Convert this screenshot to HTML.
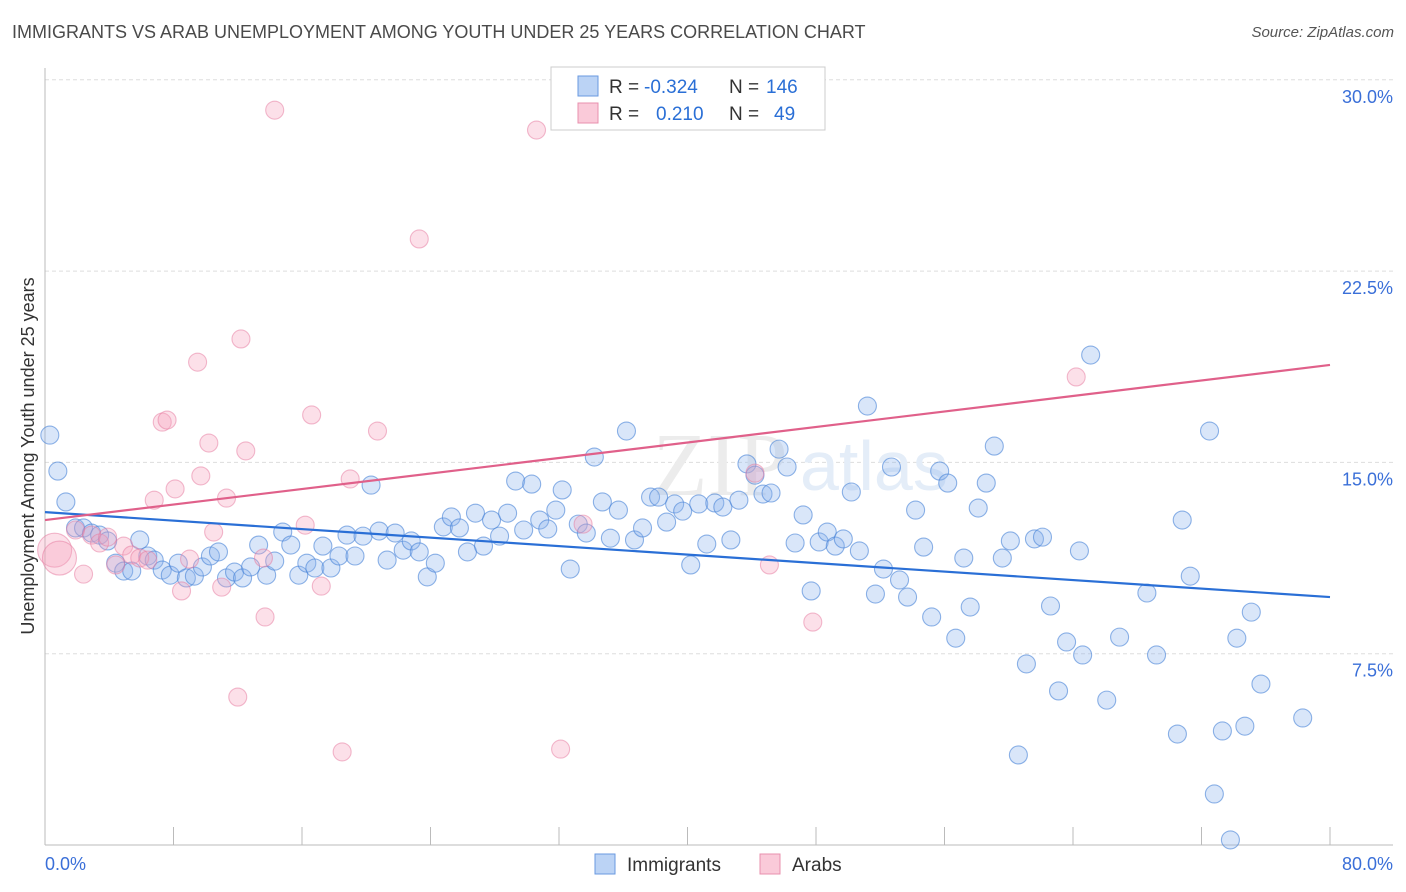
<!DOCTYPE html>
<html><head><meta charset="utf-8">
<style>
body{margin:0;background:#fff;font-family:"Liberation Sans",sans-serif;}
#wrap{position:relative;width:1406px;height:892px;overflow:hidden;}
.t{position:absolute;white-space:nowrap;}
</style></head>
<body>
<div id="wrap">
<div class="t" style="left:12px;top:22px;font-size:18px;color:#4a4a4a;">IMMIGRANTS VS ARAB UNEMPLOYMENT AMONG YOUTH UNDER 25 YEARS CORRELATION CHART</div>
<div class="t" style="right:12px;top:24px;font-size:15px;color:#555;font-style:italic;">Source: ZipAtlas.com</div>
<svg id="plot" width="1406" height="892" style="position:absolute;left:0;top:0"></svg>
</div>
<script>
const xTicks=[0,8,16,24,32,40,48,56,64,72,80];
const yTicks=[7.5,15,22.5,30];
const yTickLabels=["7.5%","15.0%","22.5%","30.0%"];
const immX=[0.3,0.8,1.3,1.9,2.4,2.9,3.4,3.9,4.4,4.9,5.4,5.9,6.4,6.8,7.3,7.8,8.3,8.8,9.3,9.8,10.3,10.8,11.3,11.8,12.3,12.8,13.3,13.8,14.3,14.8,15.3,15.8,16.3,16.8,17.3,17.8,18.3,18.8,19.3,19.8,20.3,20.8,21.3,21.8,22.3,22.8,23.3,23.8,24.3,24.8,25.3,25.8,26.3,26.8,27.3,27.8,28.3,28.8,29.3,29.8,30.3,30.8,31.3,31.8,32.2,32.7,33.2,33.7,34.2,34.7,35.2,35.7,36.2,36.7,37.2,37.7,38.2,38.7,39.2,39.7,40.2,40.7,41.2,41.7,42.2,42.7,43.2,43.7,44.2,44.7,45.2,45.7,46.2,46.7,47.2,47.7,48.2,48.7,49.2,49.7,50.2,50.7,51.2,51.7,52.2,52.7,53.2,53.7,54.2,54.7,55.2,55.7,56.2,56.7,57.2,57.6,58.1,58.6,59.1,59.6,60.1,60.6,61.1,61.6,62.1,62.6,63.1,63.6,64.4,64.6,65.1,66.1,66.9,68.6,69.2,70.5,70.8,71.3,72.5,72.8,73.3,73.8,74.2,74.7,75.1,75.7,78.3];
const immY=[16.07,14.66,13.45,12.43,12.43,12.23,12.15,11.92,11.05,10.74,10.74,11.96,11.33,11.17,10.78,10.58,11.05,10.47,10.54,10.9,11.33,11.49,10.47,10.7,10.47,10.9,11.76,10.58,11.13,12.27,11.76,10.58,11.05,10.86,11.72,10.86,11.33,12.15,11.33,12.11,14.11,12.31,11.17,12.23,11.56,11.92,11.49,10.51,11.05,12.47,12.86,12.43,11.49,13.01,11.72,12.74,12.11,13.01,14.27,12.35,14.15,12.74,12.39,13.13,13.92,10.82,12.58,12.23,15.21,13.45,12.03,13.13,16.23,11.96,12.43,13.64,13.64,12.66,13.37,13.09,10.98,13.37,11.8,13.41,13.25,11.96,13.52,14.94,14.5,13.76,13.8,15.52,14.82,11.84,12.94,9.96,11.88,12.27,11.72,12.0,13.84,11.53,17.21,9.84,10.82,14.82,10.39,9.72,13.13,11.68,8.94,14.66,14.19,8.11,11.25,9.33,13.21,14.19,15.64,11.25,11.92,3.53,7.1,12.0,12.07,9.37,6.04,7.96,11.53,7.45,19.21,5.68,8.15,9.88,7.45,4.35,12.74,10.54,16.23,2.0,4.47,0.2,8.11,4.66,9.13,6.31,4.98];
const arabX=[0.6,0.9,1.9,2.4,2.9,3.4,3.9,4.4,4.9,5.4,5.9,6.4,6.8,7.3,7.6,8.1,8.5,9.0,9.5,9.7,10.2,10.5,11.0,11.3,12.0,12.2,12.5,13.6,13.7,14.3,16.2,16.6,17.2,18.5,19.0,20.7,23.3,30.6,32.1,33.5,44.2,45.1,47.8,64.2];
const arabY=[11.56,11.25,12.35,10.62,12.15,11.84,12.07,10.98,11.72,11.37,11.25,11.17,13.52,16.58,16.66,13.96,9.96,11.21,18.93,14.47,15.76,12.27,10.11,13.6,5.8,19.84,15.45,11.25,8.94,28.81,12.54,16.86,10.15,3.65,14.35,16.23,23.76,28.03,3.76,12.58,14.58,10.98,8.74,18.35];
const arabBig=[1,1];
const immTrend=[13.05,9.72];
const arabTrend=[12.74,18.82];

const X=v=>45+v/80*1285;
const Y=v=>845-v/7.5*191.3;
const svg=document.getElementById('plot');
const NS='http://www.w3.org/2000/svg';
function mk(t,a){const e=document.createElementNS(NS,t);for(const k in a)e.setAttribute(k,a[k]);svg.appendChild(e);return e;}

yTicks.forEach((v,i)=>{
 const g=mk('line',{x1:45,x2:1393,y1:Y(v),y2:Y(v),stroke:'#ddd','stroke-dasharray':'4,3'});
 
 
 const t=mk('text',{x:1393,y:Y(v)+23,'text-anchor':'end','font-size':18,fill:'#3a6fd8','font-family':'Liberation Sans'});
 t.textContent=yTickLabels[i];
 
 
});
const ax=mk('line',{x1:45,x2:45,y1:68,y2:845,stroke:'#bbb'});


const bx=mk('line',{x1:45,x2:1393,y1:845,y2:845,stroke:'#bbb'});


xTicks.forEach(v=>{
 const l=mk('line',{x1:X(v),x2:X(v),y1:827,y2:845,stroke:'#bbb'});
 
 
});
const wm=mk('text',{x:720,y:495,'text-anchor':'middle','font-size':90,fill:'#ececec','font-family':'Liberation Serif'});
wm.textContent='ZIP';


const wm2=mk('text',{x:800,y:490,'font-size':70,fill:'#e4edf8','font-family':'Liberation Sans'});
wm2.textContent='atlas';



immX.forEach((x,i)=>{
 const c=mk('circle',{cx:X(x),cy:Y(immY[i]),r:9,fill:'rgba(140,180,238,0.33)',stroke:'rgba(70,130,215,0.6)','stroke-width':1.1});
 
 
});
arabX.forEach((x,i)=>{
 const r=i<arabBig.length?17:9;
 const c=mk('circle',{cx:X(x),cy:Y(arabY[i]),r:r,fill:'rgba(245,160,188,0.33)',stroke:'rgba(230,120,158,0.5)','stroke-width':1.1});
 
 
});
const tl1=mk('line',{x1:X(0),y1:Y(immTrend[0]),x2:X(80),y2:Y(immTrend[1]),stroke:'#2a6fd6','stroke-width':2.2});


const tl2=mk('line',{x1:X(0),y1:Y(arabTrend[0]),x2:X(80),y2:Y(arabTrend[1]),stroke:'#e0608a','stroke-width':2.2});



const xl0=mk('text',{x:45,y:870,'font-size':18,fill:'#3a6fd8','font-family':'Liberation Sans'});
xl0.textContent='0.0%';


const xl1=mk('text',{x:1393,y:870,'text-anchor':'end','font-size':18,fill:'#3a6fd8','font-family':'Liberation Sans'});
xl1.textContent='80.0%';


const yt=mk('text',{x:0,y:0,transform:'translate(34,456) rotate(-90)','text-anchor':'middle','font-size':18,fill:'#333','font-family':'Liberation Sans'});
yt.textContent='Unemployment Among Youth under 25 years';



const lb=mk('rect',{x:551,y:67,width:274,height:63,fill:'#fff',stroke:'#ccc'});


[[86,'rgba(120,168,235,0.5)','#6a9ae0','-0.324','146'],[113,'rgba(245,150,180,0.5)','#e890ae','0.210','49']].forEach((r,i)=>{
 const s=mk('rect',{x:578,y:r[0]-10,width:20,height:20,fill:r[1],stroke:r[2]});
 
 
 const t=mk('text',{x:609,y:r[0]+7,'font-size':19,fill:'#333','font-family':'Liberation Sans'});
 t.innerHTML='R = <tspan fill="#2a6fd6" x="'+(i?656:644)+'">'+r[3]+'</tspan><tspan x="729" fill="#333">N =</tspan><tspan fill="#2a6fd6" x="'+(i?774:766)+'">'+r[4]+'</tspan>';
 
 
});
[[595,'rgba(120,168,235,0.5)','#6a9ae0','Immigrants','legend-immigrants'],[760,'rgba(245,150,180,0.5)','#e890ae','Arabs','legend-arabs']].forEach(r=>{
 const s=mk('rect',{x:r[0],y:854,width:20,height:20,fill:r[1],stroke:r[2]});
 
 
 const t=mk('text',{x:r[0]+32,y:871,'font-size':19,fill:'#333','font-family':'Liberation Sans'});
 t.textContent=r[3];
 
 
});
</script>
</body></html>
